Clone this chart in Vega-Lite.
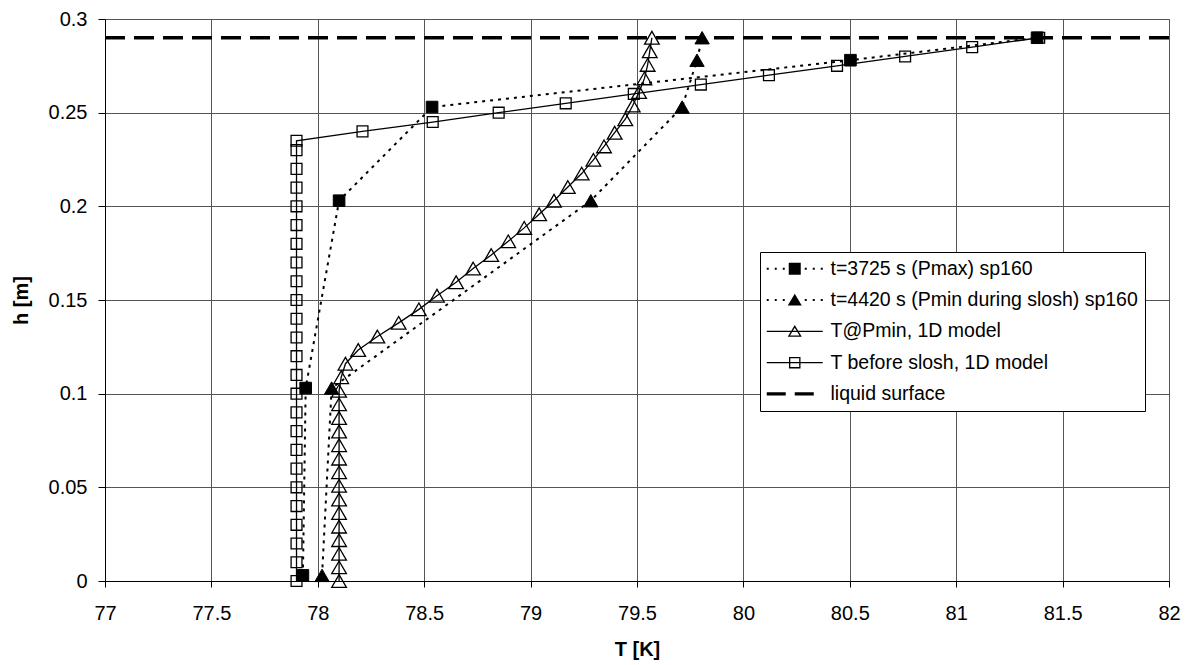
{
  "$schema": "https://vega.github.io/schema/vega-lite/v6.json",
  "width": 1064,
  "height": 562,
  "autosize": {"type": "none"},
  "padding": {"left": 105, "top": 19, "right": 19, "bottom": 84},
  "background": "white",
  "config": {
    "font": "Liberation Sans",
    "view": {"stroke": "#666666", "strokeWidth": 1},
    "axis": {
      "grid": true,
      "gridColor": "#555555",
      "gridWidth": 1,
      "domainColor": "#000000",
      "domainWidth": 1,
      "tickColor": "#000000",
      "labelColor": "#000000",
      "labelFontSize": 20,
      "labelFlush": false,
      "labelOverlap": false,
      "titleColor": "#000000",
      "titleFontSize": 20,
      "titleFontWeight": "bold"
    }
  },
  "data": {
    "values": [
      {"series": "liquid surface", "T": 77, "h": 0.29},
      {"series": "liquid surface", "T": 82, "h": 0.29},

      {"series": "t=3725 s (Pmax) sp160", "T": 77.93, "h": 0.003},
      {"series": "t=3725 s (Pmax) sp160", "T": 77.943, "h": 0.103},
      {"series": "t=3725 s (Pmax) sp160", "T": 78.1, "h": 0.203},
      {"series": "t=3725 s (Pmax) sp160", "T": 78.537, "h": 0.253},
      {"series": "t=3725 s (Pmax) sp160", "T": 80.503, "h": 0.278},
      {"series": "t=3725 s (Pmax) sp160", "T": 81.38, "h": 0.29},

      {"series": "t=4420 s (Pmin during slosh) sp160", "T": 78.02, "h": 0.003},
      {"series": "t=4420 s (Pmin during slosh) sp160", "T": 78.065, "h": 0.103},
      {"series": "t=4420 s (Pmin during slosh) sp160", "T": 79.283, "h": 0.203},
      {"series": "t=4420 s (Pmin during slosh) sp160", "T": 79.712, "h": 0.253},
      {"series": "t=4420 s (Pmin during slosh) sp160", "T": 79.782, "h": 0.278},
      {"series": "t=4420 s (Pmin during slosh) sp160", "T": 79.806, "h": 0.29},

      {"series": "T@Pmin, 1D model", "T": 78.1, "h": 0},
      {"series": "T@Pmin, 1D model", "T": 78.1, "h": 0.0073},
      {"series": "T@Pmin, 1D model", "T": 78.1, "h": 0.0145},
      {"series": "T@Pmin, 1D model", "T": 78.1, "h": 0.0218},
      {"series": "T@Pmin, 1D model", "T": 78.1, "h": 0.029},
      {"series": "T@Pmin, 1D model", "T": 78.1, "h": 0.0363},
      {"series": "T@Pmin, 1D model", "T": 78.1, "h": 0.0435},
      {"series": "T@Pmin, 1D model", "T": 78.1, "h": 0.0508},
      {"series": "T@Pmin, 1D model", "T": 78.1, "h": 0.058},
      {"series": "T@Pmin, 1D model", "T": 78.1, "h": 0.0653},
      {"series": "T@Pmin, 1D model", "T": 78.1, "h": 0.0725},
      {"series": "T@Pmin, 1D model", "T": 78.1, "h": 0.0798},
      {"series": "T@Pmin, 1D model", "T": 78.1, "h": 0.087},
      {"series": "T@Pmin, 1D model", "T": 78.1, "h": 0.0943},
      {"series": "T@Pmin, 1D model", "T": 78.1, "h": 0.1015},
      {"series": "T@Pmin, 1D model", "T": 78.11, "h": 0.1088},
      {"series": "T@Pmin, 1D model", "T": 78.13, "h": 0.116},
      {"series": "T@Pmin, 1D model", "T": 78.19, "h": 0.1233},
      {"series": "T@Pmin, 1D model", "T": 78.28, "h": 0.1305},
      {"series": "T@Pmin, 1D model", "T": 78.38, "h": 0.1378},
      {"series": "T@Pmin, 1D model", "T": 78.475, "h": 0.145},
      {"series": "T@Pmin, 1D model", "T": 78.56, "h": 0.1523},
      {"series": "T@Pmin, 1D model", "T": 78.65, "h": 0.1595},
      {"series": "T@Pmin, 1D model", "T": 78.73, "h": 0.1668},
      {"series": "T@Pmin, 1D model", "T": 78.815, "h": 0.174},
      {"series": "T@Pmin, 1D model", "T": 78.895, "h": 0.1813},
      {"series": "T@Pmin, 1D model", "T": 78.97, "h": 0.1885},
      {"series": "T@Pmin, 1D model", "T": 79.04, "h": 0.1958},
      {"series": "T@Pmin, 1D model", "T": 79.11, "h": 0.203},
      {"series": "T@Pmin, 1D model", "T": 79.175, "h": 0.2103},
      {"series": "T@Pmin, 1D model", "T": 79.24, "h": 0.2175},
      {"series": "T@Pmin, 1D model", "T": 79.295, "h": 0.2248},
      {"series": "T@Pmin, 1D model", "T": 79.345, "h": 0.232},
      {"series": "T@Pmin, 1D model", "T": 79.395, "h": 0.2393},
      {"series": "T@Pmin, 1D model", "T": 79.445, "h": 0.2465},
      {"series": "T@Pmin, 1D model", "T": 79.48, "h": 0.2538},
      {"series": "T@Pmin, 1D model", "T": 79.51, "h": 0.261},
      {"series": "T@Pmin, 1D model", "T": 79.535, "h": 0.2683},
      {"series": "T@Pmin, 1D model", "T": 79.55, "h": 0.2755},
      {"series": "T@Pmin, 1D model", "T": 79.56, "h": 0.2828},
      {"series": "T@Pmin, 1D model", "T": 79.57, "h": 0.29},

      {"series": "T before slosh, 1D model", "T": 77.9, "h": 0},
      {"series": "T before slosh, 1D model", "T": 77.9, "h": 0.01},
      {"series": "T before slosh, 1D model", "T": 77.9, "h": 0.02},
      {"series": "T before slosh, 1D model", "T": 77.9, "h": 0.03},
      {"series": "T before slosh, 1D model", "T": 77.9, "h": 0.04},
      {"series": "T before slosh, 1D model", "T": 77.9, "h": 0.05},
      {"series": "T before slosh, 1D model", "T": 77.9, "h": 0.06},
      {"series": "T before slosh, 1D model", "T": 77.9, "h": 0.07},
      {"series": "T before slosh, 1D model", "T": 77.9, "h": 0.08},
      {"series": "T before slosh, 1D model", "T": 77.9, "h": 0.09},
      {"series": "T before slosh, 1D model", "T": 77.9, "h": 0.1},
      {"series": "T before slosh, 1D model", "T": 77.9, "h": 0.11},
      {"series": "T before slosh, 1D model", "T": 77.9, "h": 0.12},
      {"series": "T before slosh, 1D model", "T": 77.9, "h": 0.13},
      {"series": "T before slosh, 1D model", "T": 77.9, "h": 0.14},
      {"series": "T before slosh, 1D model", "T": 77.9, "h": 0.15},
      {"series": "T before slosh, 1D model", "T": 77.9, "h": 0.16},
      {"series": "T before slosh, 1D model", "T": 77.9, "h": 0.17},
      {"series": "T before slosh, 1D model", "T": 77.9, "h": 0.18},
      {"series": "T before slosh, 1D model", "T": 77.9, "h": 0.19},
      {"series": "T before slosh, 1D model", "T": 77.9, "h": 0.2},
      {"series": "T before slosh, 1D model", "T": 77.9, "h": 0.21},
      {"series": "T before slosh, 1D model", "T": 77.9, "h": 0.22},
      {"series": "T before slosh, 1D model", "T": 77.9, "h": 0.23},
      {"series": "T before slosh, 1D model", "T": 77.9, "h": 0.235},
      {"series": "T before slosh, 1D model", "T": 78.21, "h": 0.24},
      {"series": "T before slosh, 1D model", "T": 78.54, "h": 0.245},
      {"series": "T before slosh, 1D model", "T": 78.85, "h": 0.25},
      {"series": "T before slosh, 1D model", "T": 79.165, "h": 0.255},
      {"series": "T before slosh, 1D model", "T": 79.485, "h": 0.26},
      {"series": "T before slosh, 1D model", "T": 79.8, "h": 0.265},
      {"series": "T before slosh, 1D model", "T": 80.12, "h": 0.27},
      {"series": "T before slosh, 1D model", "T": 80.44, "h": 0.275},
      {"series": "T before slosh, 1D model", "T": 80.76, "h": 0.28},
      {"series": "T before slosh, 1D model", "T": 81.075, "h": 0.285},
      {"series": "T before slosh, 1D model", "T": 81.39, "h": 0.29}
    ]
  },
  "encoding": {
    "x": {
      "field": "T",
      "type": "quantitative",
      "scale": {"domain": [77, 82], "nice": false, "zero": false},
      "axis": {
        "title": "T [K]",
        "values": [77, 77.5, 78, 78.5, 79, 79.5, 80, 80.5, 81, 81.5, 82],
        "format": "~g",
        "tickSize": 6,
        "labelPadding": 16,
        "titlePadding": 16
      }
    },
    "y": {
      "field": "h",
      "type": "quantitative",
      "scale": {"domain": [0, 0.3], "nice": false},
      "axis": {
        "title": "h [m]",
        "values": [0, 0.05, 0.1, 0.15, 0.2, 0.25, 0.3],
        "format": "~g",
        "tickSize": 7,
        "labelPadding": 11,
        "titlePadding": 17
      }
    }
  },
  "layer": [
    {
      "transform": [{"filter": "datum.series === 'liquid surface'"}],
      "mark": {"type": "line", "color": "black", "strokeWidth": 3.3, "strokeDash": [20, 9]},
      "encoding": {}
    },
    {
      "transform": [{"filter": "datum.series === 't=3725 s (Pmax) sp160' || datum.series === 't=4420 s (Pmin during slosh) sp160'"}],
      "mark": {"type": "line", "color": "black", "strokeWidth": 2, "strokeDash": [3, 5]},
      "encoding": {
        "detail": {"field": "series"},
        "order": {"field": "h", "type": "quantitative"}
      }
    },
    {
      "transform": [{"filter": "datum.series === 'T@Pmin, 1D model' || datum.series === 'T before slosh, 1D model'"}],
      "mark": {"type": "line", "color": "black", "strokeWidth": 1.3},
      "encoding": {
        "detail": {"field": "series"},
        "order": {"field": "h", "type": "quantitative"}
      }
    },
    {
      "transform": [{"filter": "datum.series !== 'liquid surface'"}],
      "mark": {"type": "point", "filled": true, "stroke": "black", "opacity": 1},
      "encoding": {
        "shape": {
          "condition": {"test": "datum.series === 't=3725 s (Pmax) sp160' || datum.series === 'T before slosh, 1D model'", "value": "square"},
          "value": "triangle-up"
        },
        "fill": {
          "condition": {"test": "datum.series === 't=3725 s (Pmax) sp160' || datum.series === 't=4420 s (Pmin during slosh) sp160'", "value": "black"},
          "value": "transparent"
        },
        "size": {
          "condition": [
            {"test": "datum.series === 't=3725 s (Pmax) sp160'", "value": 135},
            {"test": "datum.series === 't=4420 s (Pmin during slosh) sp160'", "value": 205},
            {"test": "datum.series === 'T@Pmin, 1D model'", "value": 215}
          ],
          "value": 118
        },
        "strokeWidth": {
          "condition": {"test": "datum.series === 't=3725 s (Pmax) sp160' || datum.series === 't=4420 s (Pmin during slosh) sp160'", "value": 1},
          "value": 1.3
        }
      }
    },
    {
      "description": "Legend key: line style and marker drawn together as one filled symbol per series",
      "transform": [{"filter": "false"}],
      "mark": {"type": "point", "filled": true, "color": "black", "opacity": 1},
      "encoding": {
        "shape": {
          "field": "series",
          "type": "nominal",
          "scale": {
            "domain": [
              "t=3725 s (Pmax) sp160",
              "t=4420 s (Pmin during slosh) sp160",
              "T@Pmin, 1D model",
              "T before slosh, 1D model",
              "liquid surface"
            ],
            "range": [
              "M-5.6,-0.2H-5.2V0.2H-5.6ZM-4,-0.2H-3.6V0.2H-4ZM-2.4,-0.2H-2V0.2H-2.4ZM2,-0.2H2.4V0.2H2ZM3.6,-0.2H4V0.2H3.6ZM5.2,-0.2H5.6V0.2H5.2ZM-1.2,-1.2H1.2V1.2H-1.2Z",
              "M-5.6,-0.2H-5.2V0.2H-5.6ZM-4,-0.2H-3.6V0.2H-4ZM-2.4,-0.2H-2V0.2H-2.4ZM2,-0.2H2.4V0.2H2ZM3.6,-0.2H4V0.2H3.6ZM5.2,-0.2H5.6V0.2H5.2ZM0,-1.25L1.4,1.1L-1.4,1.1Z",
              "M-5.6,-0.13H5.6V0.13H-5.6ZM0,-1.25L1.4,1.1L-1.4,1.1ZM0,-0.742L-0.942,0.84L0.942,0.84Z",
              "M-5.6,-0.13H5.6V0.13H-5.6ZM-1.15,-1.15H1.15V1.15H-1.15ZM-0.89,-0.89V0.89H0.89V-0.89Z",
              "M-5.6,-0.33H-1.8V0.33H-5.6ZM0,-0.33H3.8V0.33H0Z"
            ]
          },
          "legend": {
            "title": null,
            "orient": "none",
            "legendX": 655,
            "legendY": 233,
            "padding": 7,
            "fillColor": "white",
            "strokeColor": "#000000",
            "symbolSize": 100,
            "symbolFillColor": "black",
            "symbolStrokeWidth": 0,
            "symbolOpacity": 1,
            "symbolOffset": 18,
            "labelOffset": 26,
            "labelFontSize": 19.5,
            "labelColor": "#000000",
            "labelLimit": 0,
            "rowPadding": 10.3
          }
        }
      }
    }
  ]
}
